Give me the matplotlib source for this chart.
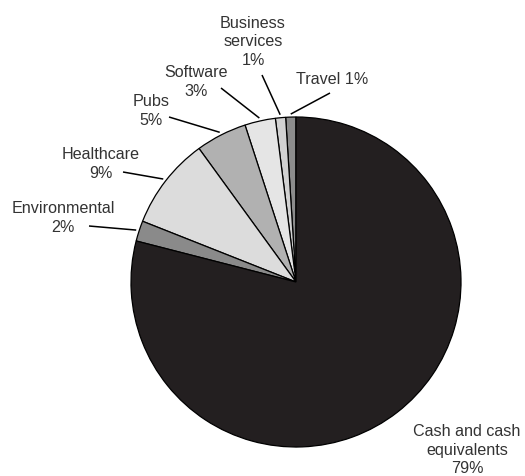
import numpy as np
import matplotlib
matplotlib.use("Agg")
import matplotlib.pyplot as plt

# Portfolio allocation, listed counter-clockwise from 12 o'clock
categories = ["Travel", "Business\nservices", "Software", "Pubs",
              "Healthcare", "Environmental", "Cash and cash\nequivalents"]
shares = [1, 1, 3, 5, 9, 2, 79]
label_texts = ["Travel 1%", "Business\nservices\n1%", "Software\n3%", "Pubs\n5%",
               "Healthcare\n9%", "Environmental\n2%", "Cash and cash\nequivalents\n79%"]

colors = ["#8c8c8c", "#d2d2d2", "#e5e5e5", "#b1b1b1", "#dcdcdc", "#8a8a8a", "#231f20"]

W, H = 525, 476
fig = plt.figure(figsize=(W / 100, H / 100), dpi=100)
ax = fig.add_axes([0, 0, 1, 1])
ax.set_xlim(0, W)
ax.set_ylim(0, H)
ax.set_aspect("equal")
ax.axis("off")

cx, cy, R = 296, H - 282, 165
wedges, _ = ax.pie(shares, colors=colors, startangle=90, counterclock=True,
                   center=(cx, cy), radius=R, frame=True,
                   wedgeprops=dict(edgecolor="black", linewidth=0.9))
ax.set_xlim(0, W)
ax.set_ylim(0, H)
ax.axis("off")

# label anchor (x, y from top) and leader line end (None = no leader)
label_pos = [(332, 80), (253, 42), (196, 82), (151, 111), (101, 164), (63, 218), (467, 450)]
leader_end = [(330, 93), (262, 75), (221, 88), (169, 117), (123, 172), (89, 226), None]

total = sum(shares)
start = 90.0
for i, v in enumerate(shares):
    span = 360.0 * v / total
    mid = np.deg2rad(start + span / 2)
    start += span
    lx, ly = label_pos[i]
    ax.text(lx, H - ly, label_texts[i], ha="center", va="center",
            fontsize=11.6, family="Liberation Sans", color="#333333",
            linespacing=1.3)
    if leader_end[i] is not None:
        sx = cx + (R + 3) * np.cos(mid)
        sy = cy + (R + 3) * np.sin(mid)
        ex, ey = leader_end[i]
        ax.plot([sx, ex], [sy, H - ey], color="black", linewidth=1.1,
                solid_capstyle="butt")

fig.savefig("out.png", dpi=100, facecolor="white")
